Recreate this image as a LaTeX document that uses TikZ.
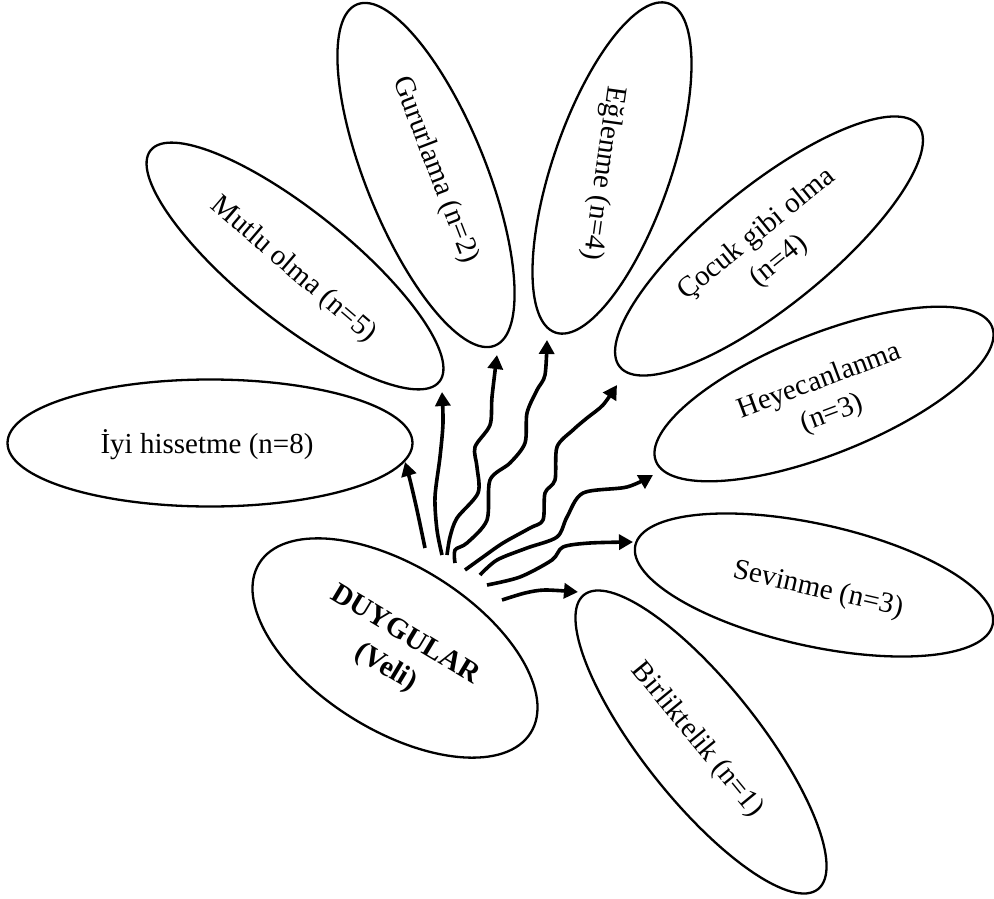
\documentclass[tikz,border=0pt]{standalone}
\usepackage{fontspec}
\setmainfont{Liberation Serif}
\usetikzlibrary{shapes.geometric,arrows.meta}
\tikzset{
  petal/.style={ellipse, draw, line width=2.3pt, fill=white, inner sep=0pt},
  lbl/.style={font=\fontsize{29}{35}\selectfont, align=center, inner sep=0pt},
  arr/.style={line width=3.6pt, line join=round, -{Triangle[length=14pt,width=15pt]}},
}
\begin{document}
\begin{tikzpicture}[x=1pt,y=-1pt]
\useasboundingbox (0,0) rectangle (994,899);

% ellipses
\node[petal, minimum width=405pt, minimum height=127pt] (e1) at (210,443) {};
\node[petal, minimum width=370pt, minimum height=110pt, rotate=-38.7] (e2) at (295,266) {};
\node[petal, minimum width=368pt, minimum height=120pt, rotate=-68] (e3) at (426,175) {};
\node[petal, minimum width=348pt, minimum height=118pt, rotate=71] (e4) at (612,168) {};
\node[petal, minimum width=384pt, minimum height=120pt, rotate=39] (e5) at (769,246) {};
\node[petal, minimum width=362pt, minimum height=120pt, rotate=21.8] (e6) at (824,394) {};
\node[petal, minimum width=366pt, minimum height=122pt, rotate=-12.5] (e7) at (814,585) {};
\node[petal, minimum width=376pt, minimum height=116pt, rotate=-51.5] (e8) at (701,742) {};
\node[petal, minimum width=320pt, minimum height=164pt, rotate=-32] (e0) at (395,648) {};

% texts
\node[lbl] (t1) at (207,445) {İyi hissetme (n=8)};
\node[lbl, rotate=-40.6] (t2) at (293,270) {Mutlu olma (n=5)};
\node[lbl, rotate=-69] (t3) at (435,170) {Gururlama (n=2)};
\node[lbl, rotate=-98] (t4) at (603,173) {Eğlenme (n=4)};
\node[lbl, rotate=39] (t5) at (768,248) {Çocuk gibi olma\\(n=4)};
\node[lbl, rotate=20.5] (t6) at (826,398) {Heyecanlanma\\(n=3)};
\node[lbl, rotate=-13] (t7) at (818,590) {Sevinme (n=3)};
\node[lbl, rotate=-50.6] (t8) at (697,740) {Birliktelik (n=1)};
\node[lbl, font=\fontsize{29}{38}\selectfont\bfseries, rotate=-31] (t0) at (395,652) {DUYGULAR\\(Veli)};

% arrow ends
\coordinate (s1) at (425,548); \coordinate (h1) at (405,462);
\coordinate (s2) at (442,555); \coordinate (h2) at (442,392);
\coordinate (s3) at (447,555); \coordinate (h3) at (497,355);
\coordinate (s4) at (455,563); \coordinate (h4) at (547,340);
\coordinate (s5) at (465,570); \coordinate (h5) at (617,385);
\coordinate (s6) at (480,575); \coordinate (h6) at (653,475);
\coordinate (s7) at (487,585); \coordinate (h7) at (633,542);
\coordinate (s8) at (502,600); \coordinate (h8) at (578,592);

\draw[arr] plot[smooth,tension=0.5] coordinates {(s1) (417,510) (410,480) (h1)};
\draw[arr] plot[smooth,tension=0.5] coordinates {(s2) (437,530) (435,497) (440,457) (443,423) (h2)};
\draw[arr] plot[smooth,tension=0.5] coordinates {(s3) (450,537) (457,518) (478,493) (477,467) (475,447) (490,425) (492,397) (h3)};
\draw[arr] plot[smooth,tension=0.5] coordinates {(s4) (455,550) (467,543) (487,520) (490,480) (510,463) (525,443) (527,413) (537,390) (545,375) (h4)};
\draw[arr] plot[smooth,tension=0.5] coordinates {(s5) (483,557) (503,543) (530,528) (543,520) (545,493) (555,480) (557,447) (573,430) (587,418) (603,405) (h5)};
\draw[arr] plot[smooth,tension=0.5] coordinates {(s6) (497,560) (527,548) (557,537) (567,517) (583,493) (627,487) (h6)};
\draw[arr] plot[smooth,tension=0.5] coordinates {(s7) (520,577) (552,560) (563,547) (590,543) (h7)};
\draw[arr] plot[smooth,tension=0.5] coordinates {(s8) (525,593) (545,590) (h8)};
\end{tikzpicture}
\end{document}
